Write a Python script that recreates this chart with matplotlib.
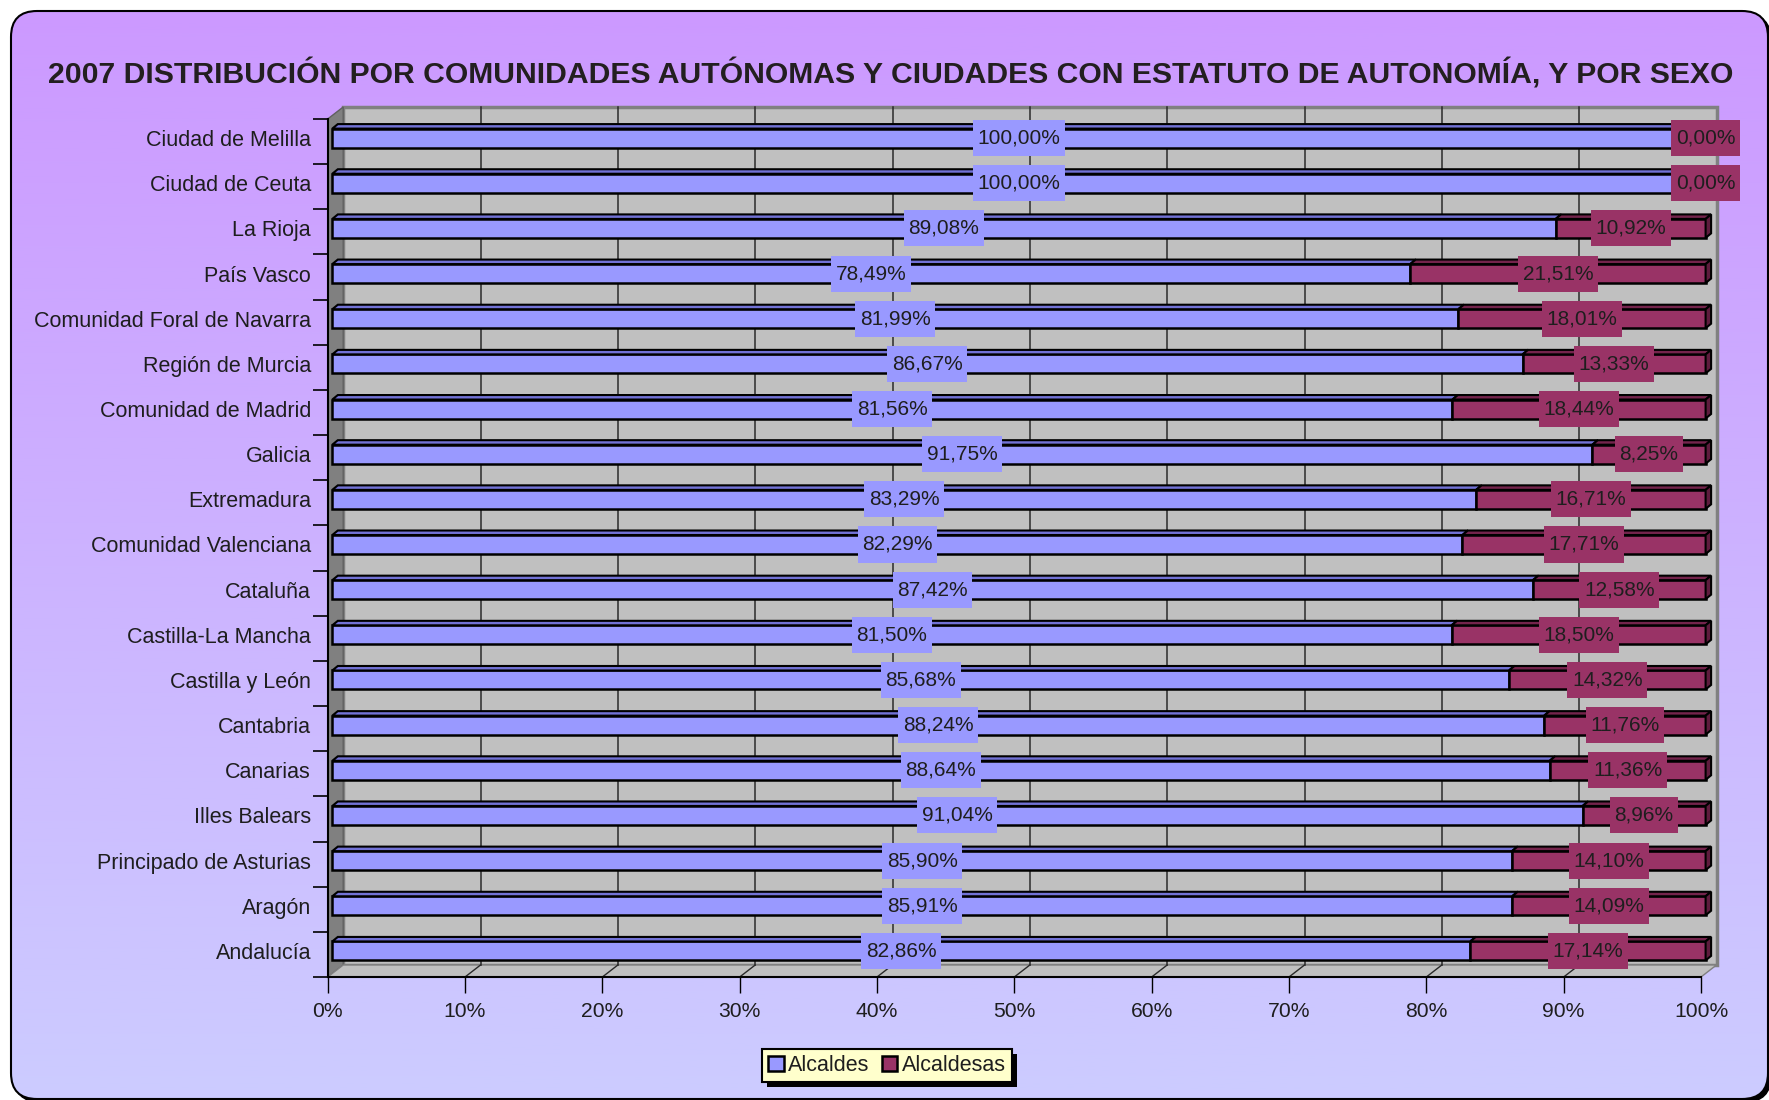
import numpy as np
import matplotlib
matplotlib.use("Agg")
import matplotlib.pyplot as plt
from matplotlib.patches import Polygon, Rectangle, FancyBboxPatch
from matplotlib.lines import Line2D
from matplotlib.path import Path
from matplotlib.transforms import ScaledTranslation, IdentityTransform

# ---------------- data ----------------
categories = ["Andalucía", "Aragón", "Principado de Asturias", "Illes Balears",
              "Canarias", "Cantabria", "Castilla y León", "Castilla-La Mancha",
              "Cataluña", "Comunidad Valenciana", "Extremadura", "Galicia",
              "Comunidad de Madrid", "Región de Murcia", "Comunidad Foral de Navarra",
              "País Vasco", "La Rioja", "Ciudad de Ceuta", "Ciudad de Melilla"]
alcaldes = [82.86, 85.91, 85.90, 91.04, 88.64, 88.24, 85.68, 81.50, 87.42, 82.29,
            83.29, 91.75, 81.56, 86.67, 81.99, 78.49, 89.08, 100.00, 100.00]
alcaldesas = [17.14, 14.09, 14.10, 8.96, 11.36, 11.76, 14.32, 18.50, 12.58, 17.71,
              16.71, 8.25, 18.44, 13.33, 18.01, 21.51, 10.92, 0.00, 0.00]
series_names = ["Alcaldes", "Alcaldesas"]
x_ticks = [0, 10, 20, 30, 40, 50, 60, 70, 80, 90, 100]
x_tick_labels = ["0%", "10%", "20%", "30%", "40%", "50%", "60%", "70%", "80%", "90%", "100%"]
title = "2007 DISTRIBUCIÓN POR COMUNIDADES AUTÓNOMAS Y CIUDADES CON ESTATUTO DE AUTONOMÍA, Y POR SEXO"

# ---------------- style ----------------
BLUE, BLUE_TOP = "#9999FF", "#7272D6"
MAROON, MAROON_TOP, MAROON_SIDE = "#993366", "#74244C", "#5E1C3D"
WALL_BACK, WALL_LEFT = "#C0C0C0", "#808080"
TXT = "#1E1E1E"
plt.rcParams["font.family"] = ["Liberation Sans", "DejaVu Sans"]

W, H, DPI = 1769, 1100, 100
fig = plt.figure(figsize=(W / DPI, H / DPI), dpi=DPI)
fig.patch.set_facecolor("white")

# ---------------- background (rounded gradient panel) ----------------
bg = fig.add_axes([0, 0, 1, 1], zorder=-10)
bg.set_xlim(0, W); bg.set_ylim(0, H); bg.axis("off")
box_kw = dict(boxstyle="round,pad=0,rounding_size=26")
bg.add_patch(FancyBboxPatch((14, -2), 1757, 1088, fc="black", ec="black", lw=1, zorder=0, **box_kw))
top_c = np.array([204, 153, 255]) / 255
bot_c = np.array([204, 204, 255]) / 255
t = np.linspace(0, 1, 512)[:, None, None]
grad = top_c * (1 - t) + bot_c * t
im = bg.imshow(grad, extent=(11, 1768, 1, 1089), aspect="auto", origin="upper", zorder=1)
clip = FancyBboxPatch((11, 1), 1757, 1088, fc="none", ec="none", **box_kw)
bg.add_patch(clip)
im.set_clip_path(clip)
bg.add_patch(FancyBboxPatch((11, 1), 1757, 1088, fc="none", ec="black", lw=1.5, zorder=2, **box_kw))

# ---------------- main axes (front plane of the 3D box) ----------------
X0, X1, YT, YB = 327.7, 1701.0, 119.0, 977.0
n = len(categories)
ax = fig.add_axes([X0 / W, (H - YB) / H, (X1 - X0) / W, (YB - YT) / H])
ax.set_xlim(0, 100)
ax.set_ylim(-0.5, n - 0.5)
ax.patch.set_visible(False)

WALL = (15.5, 12.0)   # depth offset of back wall (px)
BF = (4.6, 3.5)       # bar front-face offset (px)
BD = (5.5, 4.5)       # bar depth (px)
BH = 0.42             # bar height (row units)


def disp(x, y, *offs):
    p = ax.transData.transform((x, y))
    dx = sum(o[0] for o in offs)
    dy = sum(o[1] for o in offs)
    return (p[0] + dx, p[1] + dy)


def add_poly(pts, **kw):
    p = Polygon(pts, closed=True, transform=IdentityTransform(), clip_on=False, **kw)
    ax.add_artist(p)
    return p


ymin, ymax = -0.5, n - 0.5
# back wall
bw0 = disp(0, ymin, WALL); bw1 = disp(100, ymax, WALL)
add_poly([bw0, (bw1[0], bw0[1]), bw1, (bw0[0], bw1[1])], fc=WALL_BACK, ec="#808080", lw=2.5, zorder=0.1)
# left wall
add_poly([disp(0, ymin), disp(0, ymax), disp(0, ymax, WALL), disp(0, ymin, WALL)],
         fc=WALL_LEFT, ec="#606060", lw=1.0, zorder=0.15)
# floor
add_poly([disp(0, ymin), disp(100, ymin), disp(100, ymin, WALL), disp(0, ymin, WALL)],
         fc=WALL_BACK, ec="#808080", lw=1.0, zorder=0.15)
# gridlines on back wall + floor
for xt in x_ticks[1:-1]:
    p0, p1 = disp(xt, ymin, WALL), disp(xt, ymax, WALL)
    ax.add_artist(Line2D([p0[0], p1[0]], [p0[1], p1[1]], transform=IdentityTransform(),
                         color="#2A2A2A", lw=1.1, zorder=0.2, clip_on=False))
    f0 = disp(xt, ymin)
    ax.add_artist(Line2D([f0[0], p0[0]], [f0[1], p0[1]], transform=IdentityTransform(),
                         color="#2A2A2A", lw=1.0, zorder=0.2, clip_on=False))

# ---------------- bars ----------------
front = ax.transData + ScaledTranslation(BF[0] / DPI, BF[1] / DPI, fig.dpi_scale_trans)
ypos = np.arange(n)
b1 = ax.barh(ypos, alcaldes, height=BH, color=BLUE, edgecolor="black", linewidth=1.8,
             transform=front, clip_on=False, zorder=3, label=series_names[0])
b2 = ax.barh(ypos, alcaldesas, left=alcaldes, height=BH, color=MAROON, edgecolor="black",
             linewidth=1.8, transform=front, clip_on=False, zorder=3, label=series_names[1])

for i in range(n):
    a, b = alcaldes[i], alcaldesas[i]
    yt = i + BH / 2
    yb = i - BH / 2
    for left, width, col in ((0, a, BLUE_TOP), (a, b, MAROON_TOP)):
        if width > 0:
            add_poly([disp(left, yt, BF), disp(left + width, yt, BF),
                      disp(left + width, yt, BF, BD), disp(left, yt, BF, BD)],
                     fc=col, ec="black", lw=1.5, zorder=3.1)
    side = MAROON_SIDE if b > 0 else BLUE_TOP
    end = a + b
    add_poly([disp(end, yb, BF), disp(end, yt, BF), disp(end, yt, BF, BD), disp(end, yb, BF, BD)],
             fc=side, ec="black", lw=1.5, zorder=3.1)


# ---------------- data labels ----------------
def label_box(x0, y0, width, height, mutation_size, *args):
    px, py = 0.22 * mutation_size, 0.41 * mutation_size
    x0, y0 = x0 - px, y0 - py
    x1, y1 = x0 + width + 2 * px, y0 + height + 2 * py
    return Path([(x0, y0), (x1, y0), (x1, y1), (x0, y1), (x0, y0)], closed=True)


def fmt(v):
    return f"{v:.2f}".replace(".", ",") + "%"


for i in range(n):
    a, b = alcaldes[i], alcaldesas[i]
    ax.text(a / 2, i, fmt(a), transform=front, ha="center", va="center", fontsize=15,
            color=TXT, zorder=6, clip_on=False,
            bbox=dict(boxstyle=label_box, fc=BLUE, ec="none"))
    ax.text(a + b / 2, i, fmt(b), transform=front, ha="center", va="center", fontsize=15,
            color=TXT, zorder=6, clip_on=False,
            bbox=dict(boxstyle=label_box, fc=MAROON, ec="none"))

# ---------------- axes, ticks ----------------
for s in ("top", "right"):
    ax.spines[s].set_visible(False)
for s in ("left", "bottom"):
    ax.spines[s].set_color("black")
    ax.spines[s].set_linewidth(1.5)
    ax.spines[s].set_zorder(2)

ax.set_xticks(x_ticks)
ax.set_xticklabels(x_tick_labels)
ax.tick_params(axis="x", length=11.5, width=1.0, pad=6.5, labelsize=15.2, labelcolor=TXT, color="black")
ax.set_yticks(ypos + BF[1] / ((YB - YT) / n))
ax.set_yticklabels(categories)
ax.tick_params(axis="y", which="major", length=0, pad=12, labelsize=15.5, labelcolor=TXT)
ax.set_yticks(np.arange(n + 1) - 0.5, minor=True)
ax.tick_params(axis="y", which="minor", length=10.8, width=1.2, color="black")

# ---------------- title ----------------
fig.text(891 / W, (H - 74.5) / H, title, ha="center", va="center", fontsize=21.7,
         fontweight="bold", color="#231F20",
         family=["Liberation Sans Narrow", "Liberation Sans", "DejaVu Sans"])

# ---------------- legend ----------------
leg = fig.legend(handles=[b1, b2], labels=series_names, loc="center",
                 bbox_to_anchor=(887 / W, (H - 1065.5) / H), ncol=2, fontsize=15.5,
                 frameon=True, fancybox=False, handlelength=0.7, handleheight=0.7,
                 handletextpad=0.2, columnspacing=0.6, borderpad=0.28, borderaxespad=0)
fr = leg.get_frame()
fr.set_facecolor("#FFFFCC"); fr.set_edgecolor("black"); fr.set_linewidth(1.5); fr.set_alpha(1)
for txt in leg.get_texts():
    txt.set_color(TXT)

fig.canvas.draw()
bb = fr.get_window_extent()
fig.add_artist(Rectangle((bb.x0 + 5, bb.y0 - 5), bb.width, bb.height, transform=IdentityTransform(),
                         fc="black", ec="none", zorder=leg.get_zorder() - 0.1))

fig.savefig("out.png", dpi=DPI)
